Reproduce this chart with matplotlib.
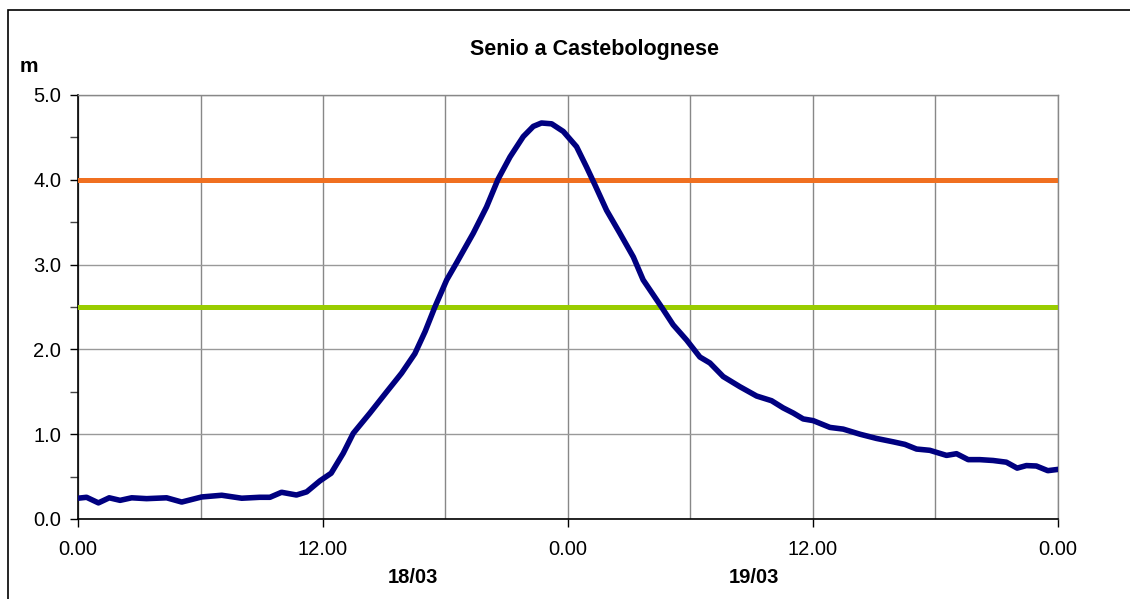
import matplotlib.pyplot as plt
from matplotlib.patches import Rectangle

plt.rcParams['font.family'] = ['Liberation Sans', 'DejaVu Sans']

# hours from 00:00 of 17/03, river level in metres
ore = [0, 0.42, 1.0, 1.53, 2.06, 2.63, 3.36, 4.34, 5.08, 6.06, 7.04, 8.02, 8.9, 9.4,
       9.97, 10.7, 11.2, 11.85, 12.4, 12.99, 13.48, 14.3, 15.12, 15.85, 16.5, 17.0,
       17.48, 18.06, 18.54, 19.36, 20.01, 20.58, 21.16, 21.81, 22.3, 22.7, 23.2,
       23.77, 24.42, 24.91, 25.32, 25.89, 26.54, 27.2, 27.68, 28.58, 29.15, 29.81,
       30.46, 30.95, 31.6, 32.42, 33.24, 33.97, 34.54, 35.03, 35.52, 36.01, 36.83,
       37.48, 38.3, 39.11, 39.93, 40.5, 41.07, 41.72, 42.54, 43.03, 43.6, 44.17,
       44.82, 45.47, 46.0, 46.45, 46.94, 47.5, 48]
livello = [0.245, 0.256, 0.19, 0.25, 0.22, 0.25, 0.24, 0.25, 0.20, 0.26, 0.28, 0.245,
           0.256, 0.256, 0.315, 0.283, 0.32, 0.45, 0.54, 0.775, 1.01, 1.25, 1.50, 1.72,
           1.95, 2.21, 2.50, 2.82, 3.02, 3.37, 3.68, 4.01, 4.27, 4.51, 4.63, 4.67, 4.66,
           4.57, 4.39, 4.15, 3.94, 3.64, 3.37, 3.09, 2.82, 2.50, 2.29, 2.11, 1.91, 1.84,
           1.68, 1.56, 1.45, 1.395, 1.31, 1.25, 1.18, 1.16, 1.08, 1.06, 1.00, 0.95, 0.91,
           0.88, 0.825, 0.81, 0.75, 0.77, 0.70, 0.70, 0.69, 0.67, 0.60, 0.63, 0.625,
           0.57, 0.585]

soglia_rossa = 4.0
soglia_gialla = 2.5

xticks = [0, 12, 24, 36, 48]
xlabels = ['0.00', '12.00', '0.00', '12.00', '0.00']
giorni = [(16.4, '18/03'), (33.1, '19/03')]

fig = plt.figure(figsize=(11.30, 5.99), dpi=100)
ax = fig.add_axes([78 / 1130, 80 / 599, 980 / 1130, 424 / 599])

# cornice esterna (tagliata a destra e in basso)
top = 1 - 10 / 599
fig.patches.append(Rectangle((8 / 1130, -0.2), 1.2, top + 0.2, transform=fig.transFigure,
                             fill=False, edgecolor='black', linewidth=1.2))

ax.axhline(soglia_rossa, color='#F07020', linewidth=3.6, zorder=3)
ax.axhline(soglia_gialla, color='#99CC00', linewidth=3.6, zorder=3)
ax.plot(ore, livello, color='#000080', linewidth=4, solid_capstyle='round',
        solid_joinstyle='round', zorder=4)

ax.set_xlim(0, 48)
ax.set_ylim(0, 5)

ax.set_xticks(xticks)
ax.set_xticklabels(xlabels)
ax.set_xticks(range(0, 49, 6), minor=True)
ax.set_yticks([0, 1, 2, 3, 4, 5])
ax.set_yticklabels(['%.1f' % v for v in [0, 1, 2, 3, 4, 5]])
ax.set_yticks([0.5, 1.5, 2.5, 3.5, 4.5], minor=True)

ax.grid(True, which='major', axis='y', color='#999999', linewidth=1)
ax.grid(True, which='both', axis='x', color='#888888', linewidth=1)
ax.set_axisbelow(True)

ax.tick_params(axis='both', which='major', direction='out', length=6, width=1,
               labelsize=14.5, colors='black')
ax.tick_params(axis='x', which='major', pad=9)
ax.tick_params(axis='y', which='major', pad=6)
ax.tick_params(axis='x', which='minor', length=0)
ax.tick_params(axis='y', which='minor', direction='out', length=6, width=1, color='#444444')

for s in ['top', 'right']:
    ax.spines[s].set_color('#888888')
    ax.spines[s].set_linewidth(1)
for s in ['left', 'bottom']:
    ax.spines[s].set_color('black')
    ax.spines[s].set_linewidth(1.2)

for h, g in giorni:
    ax.text(h, -0.685, g, ha='center', va='center', fontsize=14.5, fontweight='bold',
            clip_on=False)

fig.text(595 / 1130, 1 - 50 / 599, 'Senio a Castebolognese', ha='center', va='center',
         fontsize=15.5, fontweight='bold')
fig.text(29 / 1130, 1 - 67 / 599, 'm', ha='center', va='center', fontsize=15, fontweight='bold')

fig.savefig('out.png', dpi=100)
